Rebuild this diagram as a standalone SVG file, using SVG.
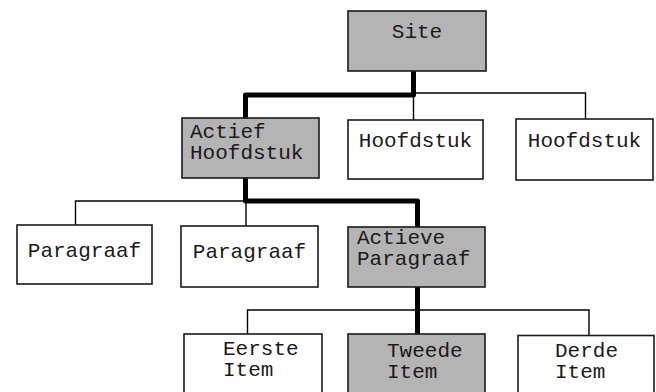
<svg xmlns="http://www.w3.org/2000/svg" width="656" height="392" viewBox="0 0 656 392">
<style>
.box{stroke:#1a1a1a;stroke-width:1.6;fill:#fff}
.act{fill:#b4b4b4}
.t{font-family:"Liberation Mono","Courier New",monospace;font-size:21px;fill:#1a1a1a}
.thin{stroke:#000;stroke-width:1.4;fill:none}
.thick{stroke:#000;stroke-width:5;fill:none;stroke-linejoin:round}
</style>
<rect width="656" height="392" fill="#fff"/>
<g id="connectors">
<polyline class="thin" points="413.5,71 413.5,93 585.5,93 585.5,120"/>
<line class="thin" x1="413.5" y1="93" x2="413.5" y2="120"/>
<polyline class="thin" points="246,201 75.5,201 75.5,225"/>
<line class="thin" x1="246" y1="201" x2="246" y2="226"/>
<polyline class="thin" points="247.5,334 247.5,310 589,310 589,336"/>
<polyline class="thick" points="413.5,71 413.5,95 245.5,95 245.5,118"/>
<polyline class="thick" points="245.5,178 245.5,201 417.5,201 417.5,227"/>
<line class="thick" x1="417.5" y1="287" x2="417.5" y2="334"/>
</g>
<g id="site">
<rect class="box act" x="348" y="11" width="138" height="60"/>
<text class="t" x="417" y="38" text-anchor="middle">Site</text>
</g>
<g id="actief-hoofdstuk">
<rect class="box act" x="182" y="118" width="137" height="60"/>
<text class="t" x="190" y="138">Actief</text>
<text class="t" x="190" y="159">Hoofdstuk</text>
</g>
<g id="hoofdstuk-2">
<rect class="box" x="348" y="120" width="135" height="59"/>
<text class="t" x="415.5" y="147" text-anchor="middle">Hoofdstuk</text>
</g>
<g id="hoofdstuk-3">
<rect class="box" x="516" y="119" width="137" height="61"/>
<text class="t" x="584.5" y="147" text-anchor="middle">Hoofdstuk</text>
</g>
<g id="paragraaf-1">
<rect class="box" x="17" y="225" width="135" height="59"/>
<text class="t" x="84.5" y="257" text-anchor="middle">Paragraaf</text>
</g>
<g id="paragraaf-2">
<rect class="box" x="181" y="226" width="137" height="61"/>
<text class="t" x="249.5" y="258" text-anchor="middle">Paragraaf</text>
</g>
<g id="actieve-paragraaf">
<rect class="box act" x="348" y="227" width="137" height="60"/>
<text class="t" x="357" y="244">Actieve</text>
<text class="t" x="357" y="265">Paragraaf</text>
</g>
<g id="eerste-item">
<rect class="box" x="184" y="334" width="138" height="70"/>
<text class="t" x="223" y="355">Eerste</text>
<text class="t" x="223" y="376">Item</text>
</g>
<g id="tweede-item">
<rect class="box act" x="348" y="334" width="137" height="70"/>
<text class="t" x="387" y="356.5">Tweede</text>
<text class="t" x="387" y="377.5">Item</text>
</g>
<g id="derde-item">
<rect class="box" x="518" y="335.5" width="136" height="70"/>
<text class="t" x="555" y="356.5">Derde</text>
<text class="t" x="555" y="377.5">Item</text>
</g>
</svg>
